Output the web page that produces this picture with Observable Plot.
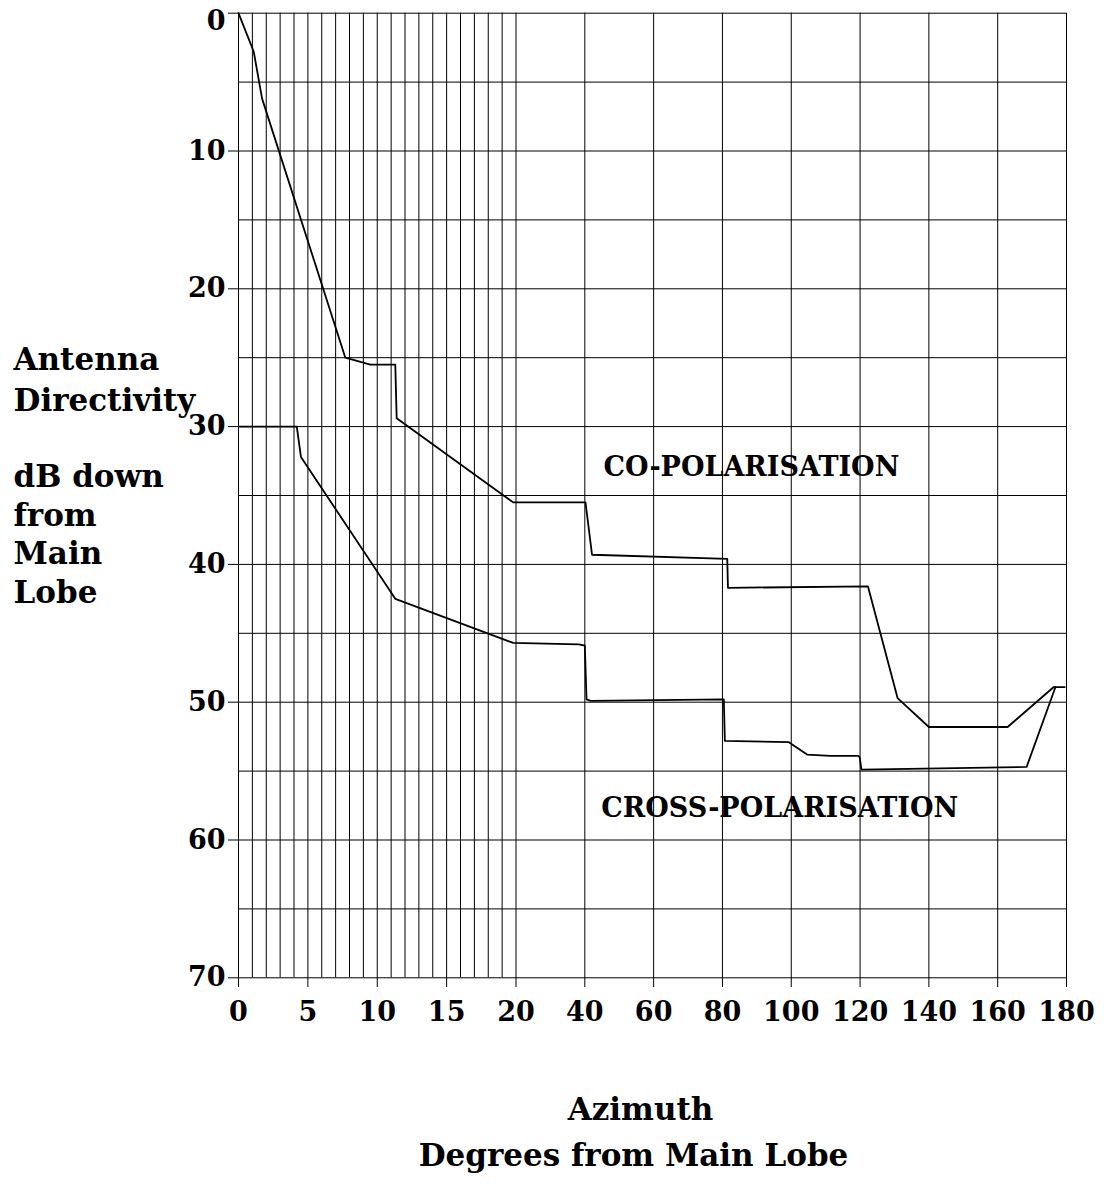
<!DOCTYPE html>
<html>
<head>
<meta charset="utf-8">
<script src="https://cdn.jsdelivr.net/npm/d3@7"></script>
<script src="https://cdn.jsdelivr.net/npm/@observablehq/plot@0.6"></script>
<style>
  html, body { margin: 0; padding: 0; background: #fff; }
</style>
</head>
<body>
<div id="chart"></div>
<script>
// ---- data ----
const coAz = [0, 1.1, 1.7, 7.7, 9.5, 11.3, 11.4, 19.8, 40.2, 42.1, 81.4, 81.6, 122.3, 130.9, 140, 162.9, 176.3, 179.5];
const coDb = [0, 2.8, 6.2, 25.0, 25.5, 25.5, 29.4, 35.5, 35.5, 39.3, 39.6, 41.7, 41.6, 49.7, 51.8, 51.8, 48.9, 48.9];

const crossAz = [0, 4.2, 4.5, 11.3, 19.8, 38.3, 40.0, 40.5, 41.7, 80.4, 80.7, 99.3, 104.6, 111.4, 119.5, 119.9, 120.4, 168.4, 176.8];
const crossDb = [30.0, 30.0, 32.2, 42.5, 45.7, 45.8, 45.9, 49.8, 49.9, 49.8, 52.8, 52.9, 53.8, 53.9, 53.9, 54.0, 54.9, 54.7, 48.9];

const xTicks = [0, 5, 10, 15, 20, 40, 60, 80, 100, 120, 140, 160, 180];
const yTicks = [0, 10, 20, 30, 40, 50, 60, 70];
const xGridFine = d3.range(0, 21, 1);
const xGridCoarse = [40, 60, 80, 100, 120, 140, 160, 180];
const yGrid = d3.range(0, 71, 5);

const seriesLabels = ["CO-POLARISATION", "CROSS-POLARISATION"];
const seriesLabelAz = [45.4, 44.8];
const seriesLabelDb = [33.55, 58.35];

const yTitleA = "Antenna\nDirectivity";
const yTitleB = "dB down\nfrom\nMain\nLobe";
const xTitleA = "Azimuth";
const xTitleB = "Degrees from Main Lobe";

// ---- build tables ----
const co = coAz.map((a, i) => ({az: a, db: coDb[i]}));
const cross = crossAz.map((a, i) => ({az: a, db: crossDb[i]}));
const annos = seriesLabels.map((t, i) => ({t, az: seriesLabelAz[i], db: seriesLabelDb[i]}));

const font = "DejaVu Serif";

const chart = Plot.plot({
  width: 1104,
  height: 1184,
  marginTop: 13,
  marginBottom: 207,
  marginLeft: 238,
  marginRight: 38,
  style: {fontFamily: font, fontWeight: "bold", background: "#fff", color: "#000"},
  x: {type: "linear", domain: [0, 20, 180], range: [238, 515.5, 1066]},
  y: {type: "linear", domain: [0, 70], range: [12.7, 977.3]},
  marks: [
    Plot.ruleX(xGridFine, {y1: 0, y2: 70, stroke: "#000", strokeWidth: 1}),
    Plot.ruleX(xGridCoarse, {y1: 0, y2: 70, stroke: "#000", strokeWidth: 1}),
    Plot.ruleY(yGrid, {x1: 0, x2: 180, stroke: "#000", strokeWidth: 1}),
    Plot.axisX({ticks: xTicks, tickSize: 10, tickPadding: 14, tickFormat: d => String(d), fontSize: 27, label: null, stroke: "#000"}),
    Plot.axisY({ticks: yTicks.filter(d => d !== 0), tickSize: 10, tickPadding: 3, tickFormat: d => String(d), fontSize: 27, label: null}),
    Plot.axisY({ticks: [0], tickSize: 10, tickPadding: 3, tickFormat: () => "", label: null}),
    Plot.axisY({ticks: [0], tickSize: 0, tickPadding: 13, dy: 8, tickFormat: d => String(d), fontSize: 27, label: null}),
    Plot.line(co, {x: "az", y: "db", stroke: "#000", strokeWidth: 1.8}),
    Plot.line(cross, {x: "az", y: "db", stroke: "#000", strokeWidth: 1.8}),
    Plot.text(annos, {x: "az", y: "db", text: "t", textAnchor: "start", lineAnchor: "bottom", fontSize: 27, fill: "#000"}),
    Plot.text([yTitleA], {frameAnchor: "top-left", dx: -225, dy: 397, textAnchor: "start", lineAnchor: "bottom", lineHeight: 1.3, fontSize: 31, fill: "#000"}),
    Plot.text([yTitleB], {frameAnchor: "top-left", dx: -225, dy: 589, textAnchor: "start", lineAnchor: "bottom", lineHeight: 1.24, fontSize: 31, fill: "#000"}),
    Plot.text([xTitleA], {frameAnchor: "bottom", dx: -12, dy: 142, lineAnchor: "bottom", fontSize: 31, fill: "#000"}),
    Plot.text([xTitleB], {frameAnchor: "bottom", dx: -19, dy: 188, lineAnchor: "bottom", fontSize: 31, fill: "#000"})
  ]
});

document.getElementById("chart").appendChild(chart);
</script>
</body>
</html>
